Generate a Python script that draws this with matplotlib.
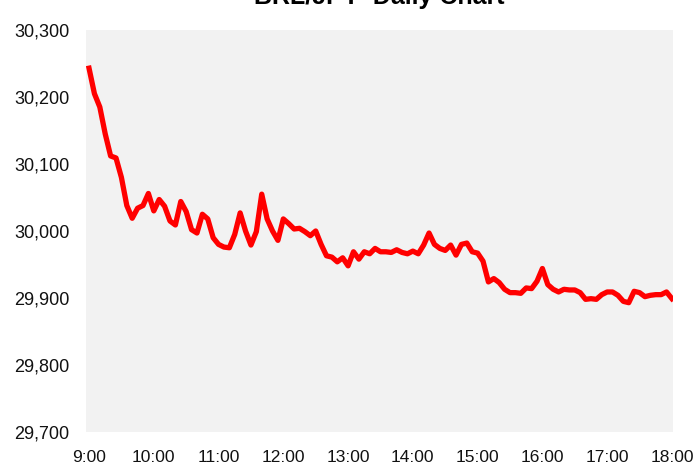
import matplotlib

matplotlib.use("Agg")
import matplotlib.pyplot as plt
import pandas as pd

TITLE = "BRL/JPY  Daily Chart"

# 5-minute closes, 9:00 -> 18:00
prices = [
    30243, 30205, 30185, 30145, 30112, 30109, 30080, 30038, 30019, 30034,
    30038, 30056, 30030, 30047, 30037, 30015, 30009, 30044, 30029, 30002,
    29997, 30025, 30018, 29990, 29980, 29976, 29975, 29995, 30027, 30000,
    29979, 29999, 30055, 30018, 30000, 29986, 30018, 30011, 30003, 30004,
    29999, 29993, 30000, 29980, 29963, 29961, 29954, 29960, 29948, 29969,
    29958, 29969, 29966, 29974, 29969, 29969, 29968, 29972, 29968, 29966,
    29970, 29966, 29979, 29997, 29980, 29974, 29971, 29979, 29964, 29980,
    29982, 29969, 29967, 29955, 29924, 29929, 29923, 29913, 29908, 29908,
    29907, 29915, 29914, 29925, 29944, 29920, 29913, 29909, 29913, 29912,
    29912, 29908, 29898, 29899, 29898, 29905, 29909, 29909, 29904, 29895,
    29893, 29910, 29908, 29902, 29904, 29905, 29905, 29909, 29899,
]
times = pd.date_range("2021-01-01 09:00", "2021-01-01 18:00", freq="5min")

hour_ticks = pd.date_range("2021-01-01 09:00", "2021-01-01 18:00", freq="1h")
hour_labels = ["9:00", "10:00", "11:00", "12:00", "13:00",
               "14:00", "15:00", "16:00", "17:00", "18:00"]
y_ticks = [29700, 29800, 29900, 30000, 30100, 30200, 30300]

fig = plt.figure(figsize=(6.97, 4.74), dpi=100)
ax = fig.add_axes([86 / 697, 42 / 474, 587 / 697, 402 / 474])
ax.set_facecolor("#f2f2f2")

ax.plot(times, prices, color="#ff0000", linewidth=3.8, solid_joinstyle="round")

ax.set_xlim(times[0] - pd.Timedelta(minutes=2.8), times[-1] + pd.Timedelta(minutes=1))
ax.set_ylim(29700, 30300)
ax.set_xticks(hour_ticks)
ax.set_xticklabels(hour_labels, family="Liberation Sans", fontsize=12.5)
ax.set_yticks(y_ticks)
ax.set_yticklabels([f"{v:,}" for v in y_ticks], family="Liberation Sans", fontsize=13)
ax.tick_params(axis="x", length=0, pad=13, colors="#111111")
ax.tick_params(axis="y", length=0, pad=12, colors="#111111")
for s in ax.spines.values():
    s.set_visible(False)

fig.text(379 / 697, 1 - 4 / 474, TITLE, ha="center", va="baseline",
         fontsize=18, fontweight="bold", family="Liberation Sans")

fig.savefig("out.png", dpi=100)
